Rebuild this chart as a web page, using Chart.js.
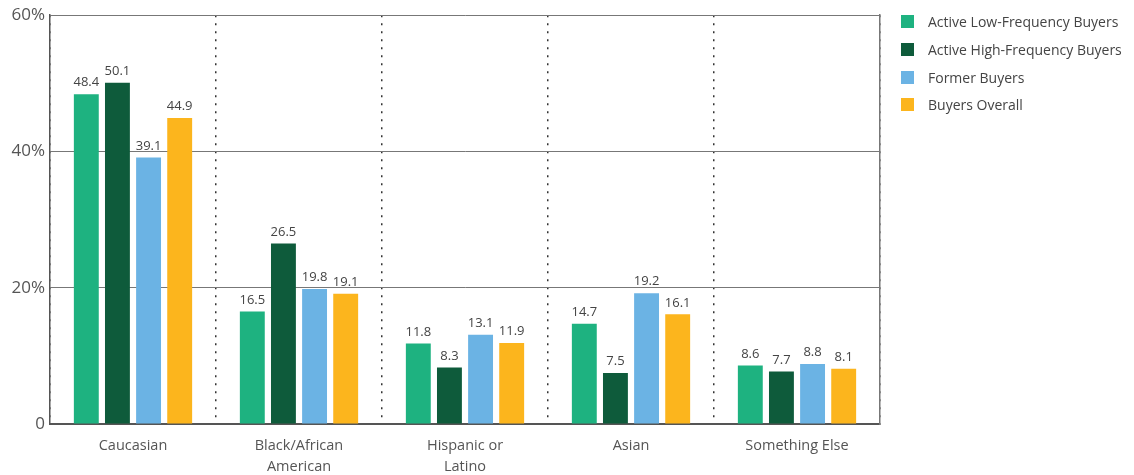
<!DOCTYPE html>
<html>
<head>
<meta charset="utf-8">
<script src="https://cdn.jsdelivr.net/npm/chart.js@4.4.1/dist/chart.umd.min.js"></script>
<style>
  body { margin: 0; background: #fff; font-family: "Open Sans", sans-serif; }
  #wrap { position: relative; width: 1134px; height: 475px; }
  #legend { position: absolute; left: 901px; top: 8px; margin: 0; padding: 0; list-style: none; }
  #legend li { display: flex; align-items: center; height: 27.7px; font-size: 14px; color: #444; white-space: nowrap; }
  #legend span.box { display: inline-block; width: 13px; height: 13px; margin-right: 14px; }
</style>
</head>
<body>
<div id="wrap">
  <canvas id="demoChart" width="1134" height="475"></canvas>
  <ul id="legend"></ul>
</div>
<script>
// 데이터
const categories = [['Caucasian'], ['Black/African', 'American'], ['Hispanic or', 'Latino'], ['Asian'], ['Something Else']];
const seriesNames = ['Active Low-Frequency Buyers', 'Active High-Frequency Buyers', 'Former Buyers', 'Buyers Overall'];
const lowFreq = [48.4, 16.5, 11.8, 14.7, 8.6];
const highFreq = [50.1, 26.5, 8.3, 7.5, 7.7];
const former = [39.1, 19.8, 13.1, 19.2, 8.8];
const overall = [44.9, 19.1, 11.9, 16.1, 8.1];
const yTicks = [0, 20, 40, 60];

const colors = ['#1eb280', '#0e5b3b', '#6bb3e4', '#fcb51d'];
const seriesValues = [lowFreq, highFreq, former, overall];

// 막대 위 값 표시
const barLabels = {
    id: 'barLabels',
    afterDatasetsDraw(chart) {
        const ctx = chart.ctx;
        ctx.save();
        ctx.font = '13px "Open Sans"';
        ctx.fillStyle = '#444';
        ctx.textAlign = 'center';
        ctx.textBaseline = 'bottom';
        chart.data.datasets.forEach((ds, i) => {
            chart.getDatasetMeta(i).data.forEach((bar, j) => {
                ctx.fillText(ds.data[j].toFixed(1), bar.x, bar.y - 5);
            });
        });
        ctx.restore();
    }
};

var ctx = document.getElementById('demoChart').getContext('2d');
var demoChart = new Chart(ctx, {
    type: 'bar',
    data: {
        labels: categories,
        datasets: seriesNames.map((name, i) => ({
            label: name,
            data: seriesValues[i],
            backgroundColor: colors[i],
            borderWidth: 0,
            categoryPercentage: 0.75,
            barPercentage: 0.8
        }))
    },
    options: {
        responsive: false,
        animation: false,
        devicePixelRatio: 1,
        layout: {
            padding: { left: 0, top: 15, right: 254, bottom: 0 }
        },
        plugins: {
            legend: { display: false },
            tooltip: { enabled: false }
        },
        scales: {
            x: {
                afterFit: (scale) => { scale.height = 51; },
                grid: {
                    offset: true,
                    color: '#333',
                    lineWidth: 1.5,
                    drawTicks: false
                },
                border: { color: '#555', width: 2, dash: [2, 6] },
                ticks: {
                    color: '#555',
                    font: { family: 'Open Sans', size: 14.5, lineHeight: 1.4 },
                    padding: 12,
                    maxRotation: 0,
                    autoSkip: false
                }
            },
            y: {
                min: 0,
                max: 60,
                afterFit: (scale) => { scale.width = 50; },
                afterBuildTicks: (scale) => { scale.ticks = yTicks.map(v => ({ value: v })); },
                grid: {
                    color: '#777',
                    lineWidth: 1,
                    drawTicks: false
                },
                border: { color: '#555', width: 1.5 },
                ticks: {
                    color: '#555',
                    font: { family: 'Open Sans', size: 17 },
                    padding: 5,
                    callback: (v) => v === 0 ? '0' : v + '%'
                }
            },
            // 오른쪽 테두리
            yRight: {
                position: 'right',
                min: 0,
                max: 60,
                afterFit: (scale) => { scale.width = 0; },
                grid: { drawOnChartArea: false, drawTicks: false },
                border: { color: '#777', width: 1.5 },
                ticks: { display: false }
            }
        }
    },
    plugins: [barLabels]
});

// 범례 생성
let ulElement = document.getElementById('legend');
seriesNames.forEach((name, i) => {
    let li = document.createElement('li');
    let box = document.createElement('span');
    box.className = 'box';
    box.style.background = colors[i];
    li.appendChild(box);
    li.appendChild(document.createTextNode(name));
    ulElement.appendChild(li);
});
</script>
</body>
</html>
